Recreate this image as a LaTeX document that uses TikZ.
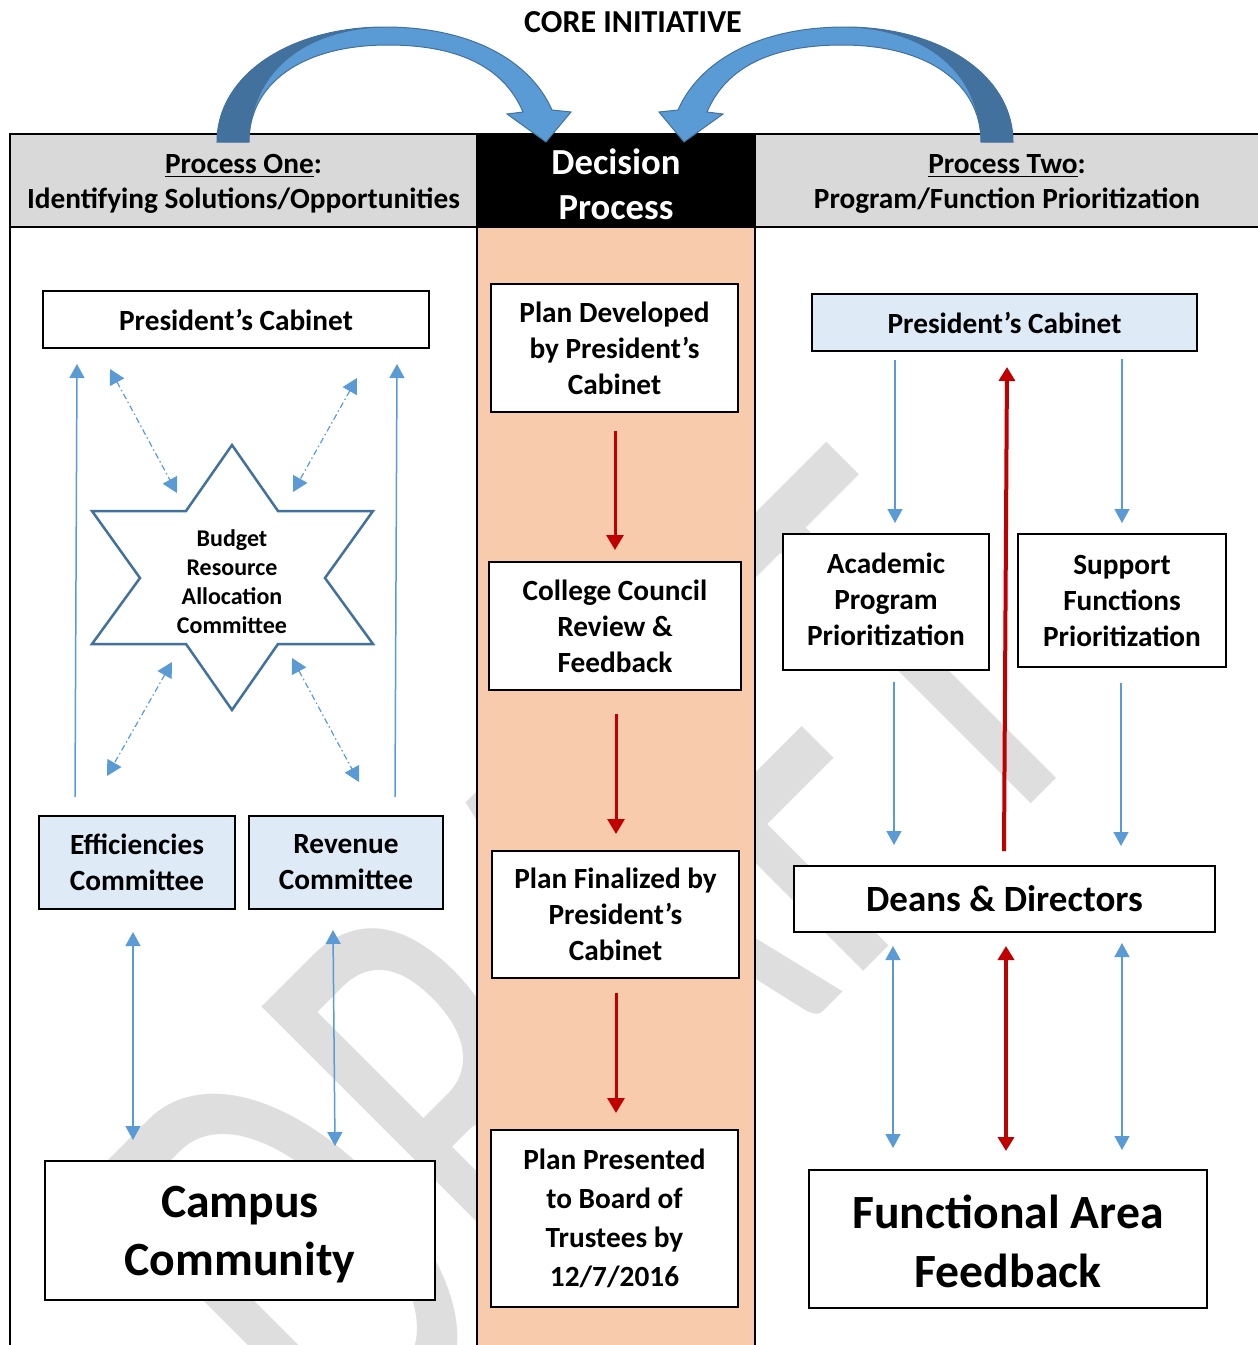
\documentclass[tikz,border=0pt]{standalone}
\usepackage{fontspec}
\setmainfont{Carlito}
\usetikzlibrary{arrows.meta}
\definecolor{lblue}{HTML}{5B9BD5}
\definecolor{dblue}{HTML}{41719C}
\definecolor{pblue}{HTML}{DEEBF7}
\definecolor{dred}{HTML}{C00000}
\definecolor{peach}{HTML}{F8CBAD}
\definecolor{hgray}{HTML}{D9D9D9}
\definecolor{wmgray}{HTML}{DEDEDE}
\newcommand{\fsz}[2]{\fontsize{#1}{#2}\selectfont\bfseries}
\newcommand{\carrowpath}{(217,142) .. controls (217,75) and (290,27) .. (385,27) .. controls (470,27) and (530,60) .. (552,110) -- (571,112) -- (546,142) -- (507,114) -- (523,112) .. controls (503,65) and (455,45) .. (388,45) .. controls (300,45) and (249,85) .. (249,142) -- cycle}
\newcommand{\carrowdark}{(217,142) .. controls (217,75) and (290,27) .. (385,27) .. controls (305,30) and (252,70) .. (249,142) -- cycle}
\begin{document}
\begin{tikzpicture}[x=0.5pt,y=-0.5pt,
  sz/.style 2 args={minimum width=#1*0.5pt,minimum height=#2*0.5pt},
  box/.style={draw=black,line width=1pt,fill=white,inner sep=0pt,align=center,font=\fsz{14.65}{18}},
  hdr/.style={draw=black,line width=1.2pt,fill=hgray,inner sep=0pt},
  htext/.style={inner sep=0pt,align=center,font=\fsz{14.65}{17.5}},
  bigtext/.style={inner sep=0pt,align=center,font=\fsz{23.85}{29.2}},
  frame/.style={draw=black,line width=1.2pt},
  barr/.style={draw=lblue,line width=0.75pt,>={Triangle[length=7pt,width=7.5pt]}},
  darr/.style={draw=lblue,line width=0.6pt,dash pattern=on 3pt off 1.5pt on 0.75pt off 1.5pt,>={Triangle[length=7.5pt,width=8pt]}},
  rarr/.style={draw=dred,line width=1.5pt,>={Triangle[length=7.5pt,width=8.5pt]}},
  rthick/.style={draw=dred,line width=2pt,>={Triangle[length=7pt,width=8pt]}},
  carr/.style={fill=lblue,draw=dblue,line width=0.5pt}]
\useasboundingbox (0,0) rectangle (1258,1345);

% watermark
\node[font=\fontsize{312}{312}\selectfont,text=wmgray,rotate=45,anchor=base east,inner sep=0pt] (wm) at (1114,721) {\scalebox{0.645}[1]{DRAFT}};

% peach column
\node[fill=peach,inner sep=0pt,sz={278}{1130},anchor=north west] (col) at (477,227) {};

% frame
\draw[frame] (10,134) -- (10,1360);
\draw[frame] (477,134) -- (477,1360);
\draw[frame] (755,134) -- (755,1360);

% headers
\node[hdr,sz={467}{93}] (h1) at (243.5,180.5) {};
\node[htext] (h1t) at (243.5,184) {\underline{Process One}:\\Identifying Solutions/Opportunities};
\node[hdr,fill=black,sz={278}{93}] (h2) at (616,180.5) {};
\node[htext,text=white,font=\fsz{18.35}{22.5}] (h2t) at (616,184) {Decision\\Process};
\node[hdr,sz={507}{93}] (h3) at (1008.5,180.5) {};
\node[htext] (h3t) at (1007,184) {\underline{Process Two}:\\Program/Function Prioritization};
\node[font=\fsz{16}{19}] (core) at (633,22) {CORE INITIATIVE};

% curved arrows
\path[carr] \carrowpath;
\fill[dblue] \carrowdark;
\begin{scope}[shift={(1230,0)},xscale=-1]
\path[carr] \carrowpath;
\fill[dblue] \carrowdark;
\end{scope}

% left panel
\node[box,sz={386}{57}] (pcL) at (236,319.5) {President’s Cabinet};
\draw[draw=dblue,line width=1.25pt,fill=white] (232,445) -- (278,511) -- (373,511) -- (325,578) -- (373,644) -- (278,644) -- (232,710) -- (186,644) -- (92,644) -- (140,578) -- (92,511) -- (186,511) -- cycle;
\node[font=\fsz{12}{14.5},align=center,inner sep=0pt] (brac) at (232,582) {Budget\\Resource\\Allocation\\Committee};
\node[box,fill=pblue,sz={196}{93}] (eff) at (137,862) {Efficiencies\\Committee};
\node[box,fill=pblue,sz={194}{93}] (rev) at (346,862) {Revenue\\Committee};
\node[box,sz={390}{139}] (camp) at (240,1230.5) {};
\node[bigtext] (campt) at (240,1234.5) {Campus\\Community};

\coordinate (l1a) at (75,797);  \coordinate (l1b) at (77,364);
\coordinate (l2a) at (395,797); \coordinate (l2b) at (397,364);
\draw[barr,->] (l1a) -- (l1b);
\draw[barr,->] (l2a) -- (l2b);
\coordinate (d1a) at (110,369); \coordinate (d1b) at (177,493);
\coordinate (d2a) at (357,378); \coordinate (d2b) at (293,492);
\coordinate (d3a) at (172,662); \coordinate (d3b) at (107,776);
\coordinate (d4a) at (292,658); \coordinate (d4b) at (359,782);
\draw[darr,<->] (d1a) -- (d1b);
\draw[darr,<->] (d2a) -- (d2b);
\draw[darr,<->] (d3a) -- (d3b);
\draw[darr,<->] (d4a) -- (d4b);
\coordinate (e1a) at (133,932); \coordinate (e1b) at (133,1140);
\coordinate (e2a) at (333,930); \coordinate (e2b) at (335,1146);
\draw[barr,<->] (e1a) -- (e1b);
\draw[barr,<->] (e2a) -- (e2b);

% middle column
\node[box,sz={247}{128}] (m1) at (614.5,348) {Plan Developed\\by President’s\\Cabinet};
\node[box,sz={252}{128}] (m2) at (615,626) {College Council\\Review \&\\Feedback};
\node[box,sz={247}{127}] (m3) at (615.5,914.5) {Plan Finalized by\\President’s\\Cabinet};
\node[box,sz={247}{177},font=\fsz{14.65}{19.4}] (m4) at (614.5,1218.5) {Plan Presented\\to Board of\\Trustees by\\12/7/2016};
\coordinate (r1a) at (615,431); \coordinate (r1b) at (615,550);
\coordinate (r2a) at (616,714); \coordinate (r2b) at (616,834);
\coordinate (r3a) at (616,993); \coordinate (r3b) at (616,1113);
\draw[rarr,->] (r1a) -- (r1b);
\draw[rarr,->] (r2a) -- (r2b);
\draw[rarr,->] (r3a) -- (r3b);

% right panel
\node[box,fill=pblue,sz={385}{57}] (pcR) at (1004.5,322.5) {President’s Cabinet};
\node[box,sz={206}{136}] (acad) at (886,602) {};
\node[box,draw=none,fill=none] (acadt) at (886,599) {Academic\\Program\\Prioritization};
\node[box,sz={208}{133}] (supp) at (1122,600.5) {Support\\Functions\\Prioritization};
\node[box,sz={421}{66},font=\fsz{18.5}{22}] (deans) at (1004.5,898.5) {Deans \& Directors};
\node[box,sz={398}{138}] (func) at (1008,1239) {};
\node[bigtext,font=\fsz{23.85}{29.5}] (funct) at (1008,1241.5) {Functional Area\\Feedback};

\coordinate (b1a) at (895,360);  \coordinate (b1b) at (895,523);
\coordinate (b2a) at (1122,359); \coordinate (b2b) at (1122,523);
\coordinate (b3a) at (894,682);  \coordinate (b3b) at (894,845);
\coordinate (b4a) at (1121,683); \coordinate (b4b) at (1121,846);
\coordinate (b5a) at (893,946);  \coordinate (b5b) at (893,1148);
\coordinate (b6a) at (1122,943); \coordinate (b6b) at (1122,1150);
\coordinate (rua) at (1004,851); \coordinate (rub) at (1007,367);
\coordinate (rda) at (1006,946); \coordinate (rdb) at (1006,1151);
\draw[barr,->] (b1a) -- (b1b);
\draw[barr,->] (b2a) -- (b2b);
\draw[barr,->] (b3a) -- (b3b);
\draw[barr,->] (b4a) -- (b4b);
\draw[barr,<->] (b5a) -- (b5b);
\draw[barr,<->] (b6a) -- (b6b);
\draw[rthick,->] (rua) -- (rub);
\draw[rthick,<->] (rda) -- (rdb);
\end{tikzpicture}
\end{document}
